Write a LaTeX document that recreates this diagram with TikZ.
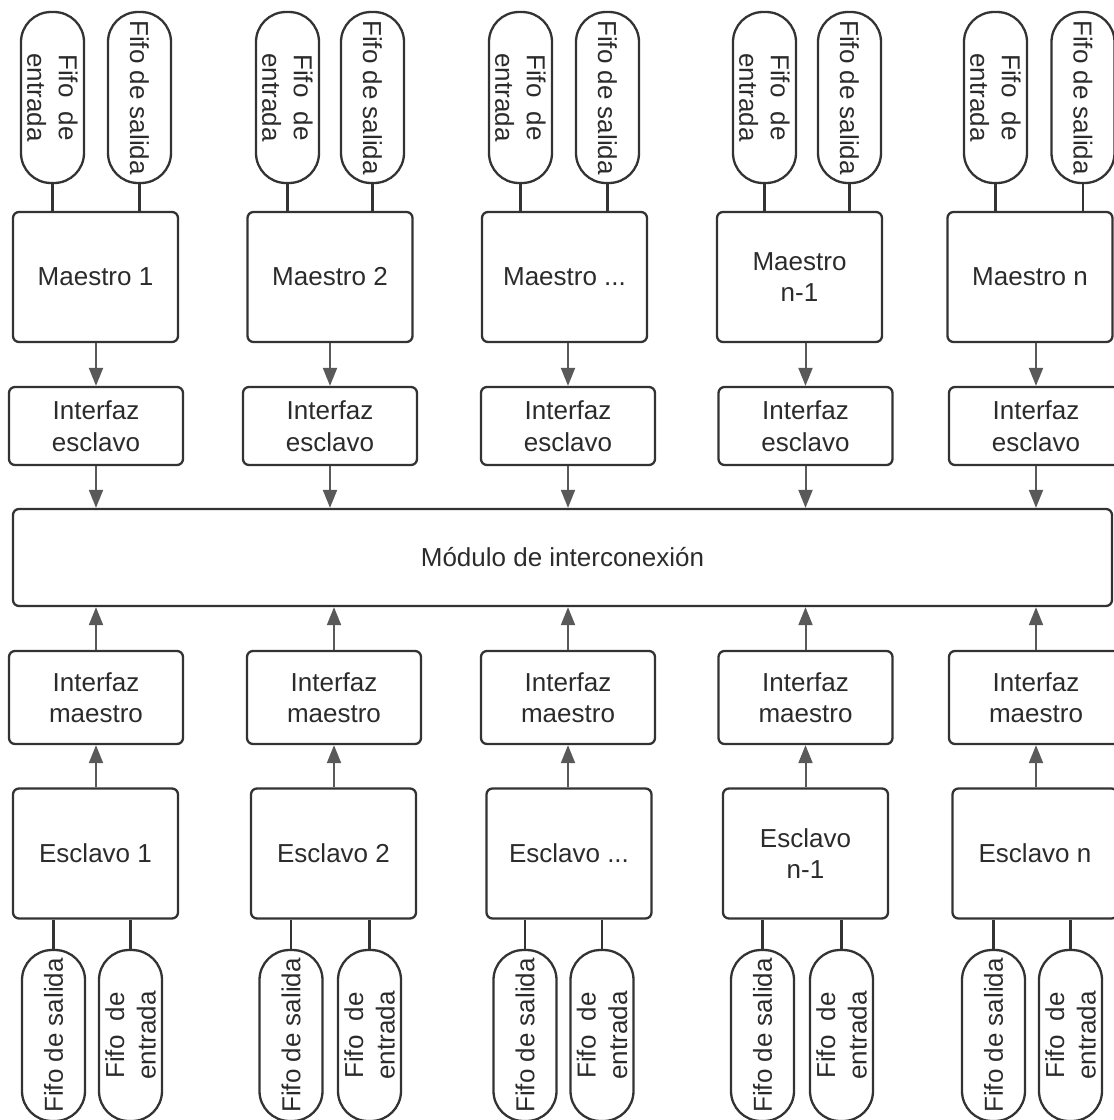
\documentclass[tikz,border=0pt]{standalone}
\usepackage{fontspec}
\setmainfont{Liberation Sans}
\usetikzlibrary{arrows.meta}
\definecolor{linec}{HTML}{333333}
\definecolor{arrowc}{HTML}{595959}
\definecolor{txtc}{HTML}{2B2B2B}

\begin{document}
\begin{tikzpicture}[
    x=1pt, y=-1pt,
    box/.style={rectangle, draw=linec, line width=2.3pt, rounded corners=6pt, align=center, inner sep=0pt, text=txtc, font=\fontsize{26}{31.5}\selectfont},
    unitbox/.style={box, minimum width=165pt, minimum height=130pt},
    ifbox/.style={box, minimum width=174pt, minimum height=78pt},
    ifboxtall/.style={box, minimum width=174pt, minimum height=93pt},
    fifo/.style={box, rounded corners=30pt, minimum width=171pt, minimum height=63pt},
    fifotop/.style={fifo, rotate=-90},
    fifobot/.style={fifo, rotate=90},
    arrow/.style={-{Triangle[length=18pt,width=14pt]}, draw=arrowc, line width=2pt},
    link/.style={draw=linec, line width=2.3pt}
]
\useasboundingbox (0,0) rectangle (1114,1120);

% fifos de los maestros
\node[fifotop] (fent1) at (52.5,97.5) {Fifo\ \ de\\entrada};
\node[fifotop] (fsal1) at (139.5,97.5) {Fifo de salida};
\node[fifotop] (fent2) at (287.5,97.5) {Fifo\ \ de\\entrada};
\node[fifotop] (fsal2) at (372.5,97.5) {Fifo de salida};
\node[fifotop] (fent3) at (520.5,97.5) {Fifo\ \ de\\entrada};
\node[fifotop] (fsal3) at (607.5,97.5) {Fifo de salida};
\node[fifotop] (fent4) at (764.5,97.5) {Fifo\ \ de\\entrada};
\node[fifotop] (fsal4) at (849.5,97.5) {Fifo de salida};
\node[fifotop] (fent5) at (995.5,97.5) {Fifo\ \ de\\entrada};
\node[fifotop] (fsal5) at (1083,97.5) {Fifo de salida};

% maestros
\node[unitbox] (maestro1) at (95.5,277) {Maestro 1};
\node[unitbox] (maestro2) at (330,277) {Maestro 2};
\node[unitbox] (maestro3) at (564.5,277) {Maestro ...};
\node[unitbox] (maestro4) at (799.5,277) {Maestro\\n-1};
\node[unitbox] (maestro5) at (1030,277) {Maestro n};

% interfaces esclavo
\node[ifbox] (iesc1) at (96,426) {Interfaz\\esclavo};
\node[ifbox] (iesc2) at (330,426) {Interfaz\\esclavo};
\node[ifbox] (iesc3) at (568,426) {Interfaz\\esclavo};
\node[ifbox] (iesc4) at (805.5,426) {Interfaz\\esclavo};
\node[ifbox] (iesc5) at (1036,426) {Interfaz\\esclavo};

% modulo central
\node[box, minimum width=1099pt, minimum height=97pt] (bus) at (562.5,557.5) {Módulo de interconexión};

% interfaces maestro
\node[ifboxtall] (imae1) at (96,697.5) {Interfaz\\maestro};
\node[ifboxtall] (imae2) at (334,697.5) {Interfaz\\maestro};
\node[ifboxtall] (imae3) at (568,697.5) {Interfaz\\maestro};
\node[ifboxtall] (imae4) at (805.5,697.5) {Interfaz\\maestro};
\node[ifboxtall] (imae5) at (1036,697.5) {Interfaz\\maestro};

% esclavos
\node[unitbox] (esclavo1) at (95.5,853.5) {Esclavo 1};
\node[unitbox] (esclavo2) at (333.5,853.5) {Esclavo 2};
\node[unitbox] (esclavo3) at (569,853.5) {Esclavo ...};
\node[unitbox] (esclavo4) at (805.5,853.5) {Esclavo\\n-1};
\node[unitbox] (esclavo5) at (1035,853.5) {Esclavo n};

% fifos de los esclavos
\node[fifobot] (bsal1) at (53.5,1035.5) {Fifo de salida};
\node[fifobot] (bent1) at (130.5,1035.5) {Fifo\ \ de\\entrada};
\node[fifobot] (bsal2) at (291,1035.5) {Fifo de salida};
\node[fifobot] (bent2) at (369.5,1035.5) {Fifo\ \ de\\entrada};
\node[fifobot] (bsal3) at (525,1035.5) {Fifo de salida};
\node[fifobot] (bent3) at (602,1035.5) {Fifo\ \ de\\entrada};
\node[fifobot] (bsal4) at (762.5,1035.5) {Fifo de salida};
\node[fifobot] (bent4) at (841.5,1035.5) {Fifo\ \ de\\entrada};
\node[fifobot] (bsal5) at (993.5,1035.5) {Fifo de salida};
\node[fifobot] (bent5) at (1070.5,1035.5) {Fifo\ \ de\\entrada};

% fifos a maestros
\draw[link] (fent1) -- (fent1 |- maestro1.north);
\draw[link] (fsal1) -- (fsal1 |- maestro1.north);
\draw[link] (fent2) -- (fent2 |- maestro2.north);
\draw[link] (fsal2) -- (fsal2 |- maestro2.north);
\draw[link] (fent3) -- (fent3 |- maestro3.north);
\draw[link] (fsal3) -- (fsal3 |- maestro3.north);
\draw[link] (fent4) -- (fent4 |- maestro4.north);
\draw[link] (fsal4) -- (fsal4 |- maestro4.north);
\draw[link] (fent5) -- (fent5 |- maestro5.north);
\draw[link] (fsal5) -- (fsal5 |- maestro5.north);

% maestros a interfaces y al modulo
\draw[arrow] (iesc1.north |- maestro1.south) -- (iesc1.north);
\draw[arrow] (iesc2.north |- maestro2.south) -- (iesc2.north);
\draw[arrow] (iesc3.north |- maestro3.south) -- (iesc3.north);
\draw[arrow] (iesc4.north |- maestro4.south) -- (iesc4.north);
\draw[arrow] (iesc5.north |- maestro5.south) -- (iesc5.north);
\draw[arrow] (iesc1.south) -- (iesc1.south |- bus.north);
\draw[arrow] (iesc2.south) -- (iesc2.south |- bus.north);
\draw[arrow] (iesc3.south) -- (iesc3.south |- bus.north);
\draw[arrow] (iesc4.south) -- (iesc4.south |- bus.north);
\draw[arrow] (iesc5.south) -- (iesc5.south |- bus.north);

% esclavos a interfaces y al modulo
\draw[arrow] (imae1.north) -- (imae1.north |- bus.south);
\draw[arrow] (imae2.north) -- (imae2.north |- bus.south);
\draw[arrow] (imae3.north) -- (imae3.north |- bus.south);
\draw[arrow] (imae4.north) -- (imae4.north |- bus.south);
\draw[arrow] (imae5.north) -- (imae5.north |- bus.south);
\draw[arrow] (imae1.south |- esclavo1.north) -- (imae1.south);
\draw[arrow] (imae2.south |- esclavo2.north) -- (imae2.south);
\draw[arrow] (imae3.south |- esclavo3.north) -- (imae3.south);
\draw[arrow] (imae4.south |- esclavo4.north) -- (imae4.south);
\draw[arrow] (imae5.south |- esclavo5.north) -- (imae5.south);

% fifos a esclavos
\draw[link] (bsal1) -- (bsal1 |- esclavo1.south);
\draw[link] (bent1) -- (bent1 |- esclavo1.south);
\draw[link] (bsal2) -- (bsal2 |- esclavo2.south);
\draw[link] (bent2) -- (bent2 |- esclavo2.south);
\draw[link] (bsal3) -- (bsal3 |- esclavo3.south);
\draw[link] (bent3) -- (bent3 |- esclavo3.south);
\draw[link] (bsal4) -- (bsal4 |- esclavo4.south);
\draw[link] (bent4) -- (bent4 |- esclavo4.south);
\draw[link] (bsal5) -- (bsal5 |- esclavo5.south);
\draw[link] (bent5) -- (bent5 |- esclavo5.south);
\end{tikzpicture}
\end{document}
